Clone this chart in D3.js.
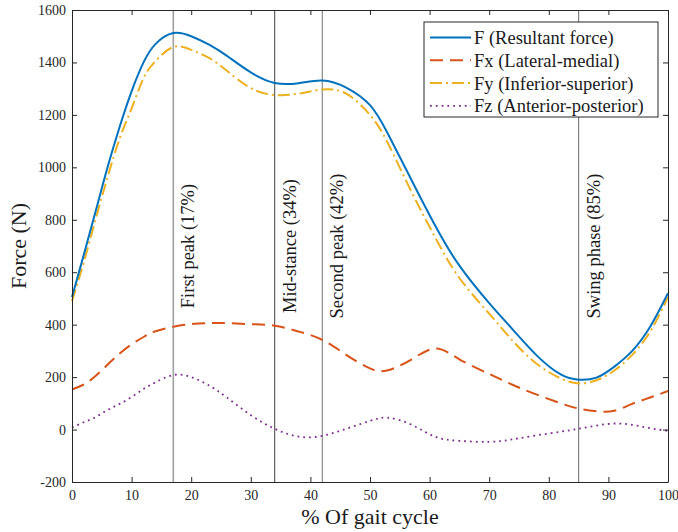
<!DOCTYPE html>
<html>
<head>
<meta charset="utf-8">
<script src="https://cdnjs.cloudflare.com/ajax/libs/d3/7.8.5/d3.min.js"></script>
<style>
  html, body { margin: 0; padding: 0; background: #fff; }
  svg { display: block; }
  text { font-family: "Liberation Serif", "Times New Roman", serif; }
</style>
</head>
<body>
<svg id="chart" width="678" height="532"></svg>
<script>
// Gait cycle sample points (% of cycle)
const gaitPercent = [0, 2, 4, 6, 8, 10, 12, 14, 17, 20, 23, 26, 30, 34, 38, 42, 46, 50,
  53, 57, 61, 65, 70, 74, 78, 82, 85, 88, 91, 94, 97, 100];

// Resultant force F (N)
const forceF = [505, 668, 835, 1003, 1155, 1290, 1400, 1470, 1512, 1500, 1468, 1425, 1362, 1322, 1321, 1331, 1304, 1237,
  1128, 950, 775, 625, 482, 380, 282, 210, 190, 198, 240, 300, 392, 520];
// Lateral-medial component Fx (N)
const forceFx = [153, 172, 205, 248, 290, 325, 353, 375, 392, 402, 406, 406, 402, 396, 374, 342, 285, 233,
  226, 268, 309, 268, 212, 170, 133, 100, 80, 70, 72, 98, 122, 147];
// Inferior-superior component Fy (N)
const forceFy = [490, 640, 805, 965, 1110, 1225, 1340, 1405, 1459, 1448, 1417, 1368, 1302, 1276, 1281, 1297, 1281, 1200,
  1092, 905, 730, 578, 442, 337, 250, 195, 176, 188, 225, 285, 373, 505];
// Anterior-posterior component Fz (N)
const forceFz = [8, 28, 48, 75, 98, 124, 155, 180, 208, 200, 168, 122, 55, 3, -27, -24, 3, 33,
  45, 18, -28, -43, -47, -37, -22, -8, 3, 15, 23, 18, 5, -5];

// Gait events marked on the cycle
const eventPercent = [17, 34, 42, 85];
const eventLabels = ["First peak (17%)", "Mid-stance (34%)", "Second peak (42%)", "Swing phase (85%)"];
const eventColors = ["#a0a0a0", "#606060", "#8a8a8a", "#808080"];

// Legend entries and series styling
const seriesNames = ["F (Resultant force)", "Fx (Lateral-medial)", "Fy (Inferior-superior)", "Fz (Anterior-posterior)"];
const seriesColors = ["#0072BD", "#D95319", "#EDB120", "#7E2F8E"];
const seriesDash = [null, "13,7", "12,4,2,4", "1.8,4"];

const xTicks = d3.range(0, 101, 10);
const yTicks = d3.range(-200, 1601, 200);

const W = 678, H = 532;
const margin = { top: 10, right: 10, bottom: 50, left: 72 };
const svg = d3.select("#chart");
const serif = "'Liberation Serif', 'Times New Roman', serif";

const x = d3.scaleLinear().domain([0, 100]).range([margin.left, W - margin.right]);
const y = d3.scaleLinear().domain([-200, 1600]).range([H - margin.bottom, margin.top]);

const axisColor = "#262626";
const plainNum = d => String(d);

// Event lines
const ev = svg.append("g");
eventPercent.forEach((p, i) => {
  ev.append("line")
    .attr("x1", x(p)).attr("x2", x(p))
    .attr("y1", y(1600)).attr("y2", y(-200))
    .attr("stroke", eventColors[i]).attr("stroke-width", i === 0 ? 1.6 : 1.2);
  ev.append("text")
    .attr("transform", `translate(${x(p) + 21},${y(700)}) rotate(-90)`)
    .attr("text-anchor", "middle")
    .attr("font-family", serif)
    .attr("font-size", 18.5)
    .attr("fill", "#1a1a1a")
    .text(eventLabels[i]);
});

// Series lines (smooth natural spline through the samples)
const seriesValues = [forceF, forceFx, forceFy, forceFz];
const line = d3.line()
  .x(d => x(d[0]))
  .y(d => y(d[1]))
  .curve(d3.curveNatural);

const drawOrder = [1, 3, 2, 0];
drawOrder.forEach(i => {
  const pts = gaitPercent.map((p, k) => [p, seriesValues[i][k]]);
  svg.append("path")
    .datum(pts)
    .attr("d", line)
    .attr("fill", "none")
    .attr("stroke", seriesColors[i])
    .attr("stroke-width", i === 3 ? 1.8 : 2)
    .attr("stroke-dasharray", seriesDash[i]);
});

// Axes (box with inward ticks on all sides)
const tickLen = 5;
const axBottom = svg.append("g").attr("transform", `translate(0,${y(-200)})`)
  .call(d3.axisBottom(x).tickValues(xTicks).tickSizeInner(-tickLen).tickSizeOuter(0).tickPadding(8).tickFormat(plainNum));
const axTop = svg.append("g").attr("transform", `translate(0,${y(1600)})`)
  .call(d3.axisTop(x).tickValues(xTicks).tickSizeInner(-tickLen).tickSizeOuter(0).tickFormat(""));
const axLeft = svg.append("g").attr("transform", `translate(${x(0)},0)`)
  .call(d3.axisLeft(y).tickValues(yTicks).tickSizeInner(-tickLen).tickSizeOuter(0).tickPadding(6).tickFormat(plainNum));
const axRight = svg.append("g").attr("transform", `translate(${x(100)},0)`)
  .call(d3.axisRight(y).tickValues(yTicks).tickSizeInner(-tickLen).tickSizeOuter(0).tickFormat(""));

[axBottom, axTop, axLeft, axRight].forEach(g => {
  g.attr("font-family", serif).attr("font-size", 14);
  g.select(".domain").attr("stroke", axisColor).attr("stroke-width", 1);
  g.selectAll(".tick line").attr("stroke", axisColor).attr("stroke-width", 1);
  g.selectAll(".tick text").attr("fill", axisColor);
});

// Axis titles
svg.append("text")
  .attr("x", x(50)).attr("y", 524)
  .attr("text-anchor", "middle")
  .attr("font-family", serif)
  .attr("font-size", 22)
  .attr("fill", "#1a1a1a")
  .text("% Of gait cycle");

svg.append("text")
  .attr("transform", `translate(26,${y(700)}) rotate(-90)`)
  .attr("text-anchor", "middle")
  .attr("font-family", serif)
  .attr("font-size", 22)
  .attr("fill", "#1a1a1a")
  .text("Force (N)");

// Legend
const lg = svg.append("g");
lg.append("rect")
  .attr("x", 424).attr("y", 22)
  .attr("width", 234).attr("height", 95)
  .attr("fill", "#fff")
  .attr("stroke", axisColor).attr("stroke-width", 1);
seriesNames.forEach((name, i) => {
  const cy = 37.5 + i * 22.8;
  lg.append("line")
    .attr("x1", 430).attr("x2", 471)
    .attr("y1", cy).attr("y2", cy)
    .attr("stroke", seriesColors[i])
    .attr("stroke-width", i === 3 ? 1.8 : 2)
    .attr("stroke-dasharray", seriesDash[i]);
  lg.append("text")
    .attr("x", 474).attr("y", cy)
    .attr("dy", "0.35em")
    .attr("font-family", serif)
    .attr("font-size", 18.5)
    .attr("fill", "#1a1a1a")
    .text(name);
});
</script>
</body>
</html>
